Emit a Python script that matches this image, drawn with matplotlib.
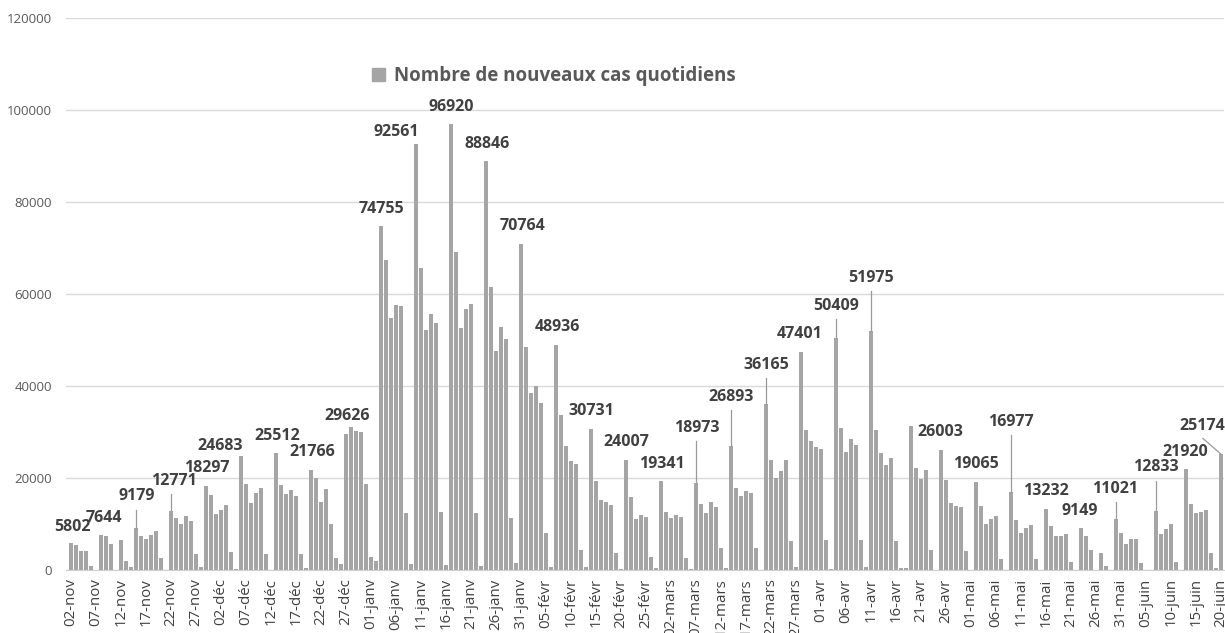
import numpy as np
import pandas as pd
import matplotlib
matplotlib.use("Agg")
import matplotlib.pyplot as plt
from matplotlib.patches import Patch

# daily new cases, 02-nov -> 20-juin (one value per day)
new_cases = [
    5802, 5500, 4200, 4200, 900, 0,
    7644, 7300, 5600, 0, 6500, 1900, 600,
    9179, 7400, 6800, 7700, 8500, 2700, 0,
    12771, 11200, 10100, 11700, 10600, 3400, 600,
    18297, 16300, 12200, 13100, 14100, 4000, 300,
    24683, 18700, 14500, 16700, 17900, 3500, 0,
    25512, 18500, 16500, 17400, 16000, 3400, 400,
    21766, 19900, 14700, 17700, 10100, 2700, 1200,
    29626, 31000, 30200, 30100, 18600, 2800, 2000,
    74755, 67400, 54800, 57600, 57300, 12500, 1400,
    92561, 65700, 52100, 55700, 53600, 12700, 1000,
    96920, 69100, 52600, 56700, 57800, 12500, 800,
    88846, 61500, 47600, 52900, 50200, 11300, 1600,
    70764, 48400, 38400, 40000, 36200, 8000, 600,
    48936, 33800, 26900, 23700, 23100, 4400, 600,
    30731, 19300, 15300, 14800, 14200, 3600, 200,
    24007, 15900, 11100, 12000, 11500, 2900, 400,
    19341, 12700, 11300, 12000, 11600, 2600, 200,
    18973, 14400, 12500, 14800, 13600, 4700, 400,
    26893, 17900, 16100, 17200, 16700, 4800, 0,
    36165, 23900, 19900, 21600, 24000, 6300, 700,
    47401, 30400, 28100, 26800, 26400, 6500, 200,
    50409, 30900, 25600, 28400, 27100, 6500, 700,
    51975, 30500, 25500, 22900, 24400, 6200, 400, 400,
    31300, 22200, 19800, 21700, 4400, 100,
    26003, 19600, 14500, 14000, 13800, 4200, 100,
    19065, 13900, 10000, 11100, 11700, 2400, 0,
    16977, 10800, 8100, 9200, 9700, 2400, 0,
    13232, 9500, 7300, 7500, 7900, 1800, 0,
    9149, 7300, 4400, 0, 3800, 900, 0,
    11021, 8000, 5600, 6800, 6700, 1500, 0,
    100, 12833, 7900, 9000, 10000, 1800, 0,
    21920, 14300, 12300, 12700, 13000, 3600, 400, 25174,
]

dates = pd.date_range("2020-11-02", "2021-06-20", freq="D")
month_fr = {11: "nov", 12: "déc", 1: "janv", 2: "févr", 3: "mars",
            4: "avr", 5: "mai", 6: "juin"}
day_labels = [f"{d.day:02d}-{month_fr[d.month]}" for d in dates]

# days whose value is written above the chart
labeled_days = [0, 6, 13, 20, 27, 34, 41, 48, 55, 62, 69, 76, 83, 90, 97,
                104, 111, 118, 125, 132, 139, 146, 153, 160, 174, 181, 188,
                195, 202, 209, 217, 223, 230]
leader_days = [13, 20, 125, 132, 139, 153, 160, 188, 209, 217, 230]

# label placement (x in days, y in cases) - layout only
label_pos = {
    0: (0.3, 9400), 6: (6.5, 11300), 13: (13.1, 16000), 20: (20.5, 19400),
    27: (27.1, 22100), 34: (29.9, 27000), 41: (41.3, 29200), 48: (48.2, 25700),
    55: (55.2, 33500), 62: (62.1, 78500), 69: (65.0, 95300), 76: (76.1, 100700),
    83: (83.2, 92700), 90: (90.2, 74800), 97: (97.3, 52900), 104: (104.1, 34600),
    111: (111.1, 27900), 118: (118.1, 23100), 125: (125.1, 30900),
    132: (132.1, 37700), 139: (139.1, 44600), 146: (145.8, 51300),
    153: (153.0, 57500), 160: (160.0, 63500), 174: (173.8, 29900),
    181: (181.0, 23100), 188: (187.9, 32200), 195: (194.9, 17200),
    202: (201.8, 12900), 209: (208.9, 17600), 217: (217.0, 22300),
    223: (222.9, 25700), 230: (226.2, 31400),
}

plt.rcParams['font.family'] = ['Open Sans', 'DejaVu Sans']

bar_color = '#a5a5a5'
text_dark = '#404040'
text_grey = '#595959'

fig = plt.figure(figsize=(12.25, 6.33), dpi=100)
ax = fig.add_axes([66 / 1225, 63 / 633, (1223.5 - 66) / 1225, (570 - 18) / 633])

x = np.arange(len(new_cases))
ax.bar(x, new_cases, width=0.7, color=bar_color, zorder=2)

ax.set_xlim(-1, len(new_cases) - 0.5)
ax.set_ylim(0, 120000)
ax.set_yticks(np.arange(0, 120001, 20000))
ax.yaxis.grid(True, color='#d9d9d9', linewidth=1, zorder=0)
ax.set_axisbelow(True)
for s in ['top', 'right', 'left']:
    ax.spines[s].set_visible(False)
ax.spines['bottom'].set_color('#d0d0d0')
ax.tick_params(axis='y', length=0, labelsize=9.5, labelcolor=text_grey, pad=10)

ticks = x[::5]
ax.set_xticks(ticks)
ax.set_xticklabels([day_labels[i] for i in ticks], rotation=90,
                   fontsize=10.8, color=text_dark)
ax.tick_params(axis='x', length=0, pad=6)

for d in labeled_days:
    lx, ly = label_pos[d]
    ax.text(lx, ly, str(new_cases[d]), ha='center', va='center',
            fontsize=11.5, fontweight='bold', color=text_dark, zorder=4)
    if d in leader_days:
        if d == 230:
            ax.plot([lx + 0.2, d], [ly - 2800, new_cases[d]],
                    color='#999999', lw=0.9, zorder=3)
        else:
            ax.plot([d, d], [new_cases[d], ly - 2900],
                    color='#999999', lw=0.9, zorder=3)

leg = ax.legend(handles=[Patch(color=bar_color, label='Nombre de nouveaux cas quotidiens')],
                loc='center left', bbox_to_anchor=(372 / 1225, 1 - 76 / 633),
                bbox_transform=fig.transFigure, frameon=False,
                borderpad=0, borderaxespad=0, handlelength=0.7,
                handleheight=0.7, handletextpad=0.5,
                prop={'size': 13.5, 'weight': 'bold'})
for t in leg.get_texts():
    t.set_color(text_grey)

fig.savefig("out.png", dpi=100, facecolor='white')
